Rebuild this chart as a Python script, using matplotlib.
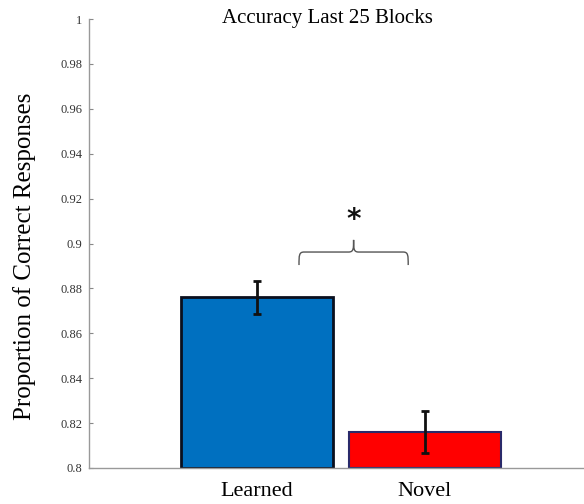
import matplotlib
matplotlib.use("Agg")
import matplotlib.pyplot as plt
from matplotlib.path import Path
import matplotlib.patches as patches
from matplotlib.ticker import FormatStrFormatter

# group means and error bars
conditions = ["Learned", "Novel"]
means = [0.876, 0.816]
errors = [0.0074, 0.0094]
bar_colors = ["#0070C0", "#FF0000"]
edge_colors = ["#0a0f1e", "#2a2a6a"]
yticks = [0.8, 0.82, 0.84, 0.86, 0.88, 0.9, 0.92, 0.94, 0.96, 0.98, 1.0]

plt.rcParams['font.family'] = ['Liberation Serif', 'DejaVu Serif']

fig = plt.figure(figsize=(5.84, 5.04), dpi=100)
ax = fig.add_axes([89/584, 36/504, 504/584, 449/504])

xs = [1, 2]
for x, m, c, ec, lw in zip(xs, means, bar_colors, edge_colors, [2.0, 1.5]):
    ax.bar(x, m - 0.8, bottom=0.8, width=0.9, color=c, edgecolor=ec, linewidth=lw, zorder=2)
ax.errorbar(xs, means, yerr=errors, fmt='none', ecolor='#111111', elinewidth=2,
            capsize=3, capthick=2, zorder=3)

ax.set_xlim(0, 3)
ax.set_ylim(0.8, 1.0)
ax.set_yticks(yticks)
ax.yaxis.set_major_formatter(FormatStrFormatter('%g'))
ax.set_xticks(xs)
ax.set_xticklabels(conditions, fontsize=16)
ax.tick_params(axis='x', length=0, pad=10)
ax.tick_params(axis='y', direction='in', length=3, width=0.8, color='#888888',
               labelsize=9, labelcolor='#333333', pad=5)
for s in ['top', 'right']:
    ax.spines[s].set_visible(False)
for s in ['left', 'bottom']:
    ax.spines[s].set_color('#999999')
    ax.spines[s].set_linewidth(1.0)

ax.set_ylabel("Proportion of Correct Responses", fontsize=18, va='center')
ax.yaxis.set_label_coords(-0.127, 0.472)
fig.text(327/584, 1 - 18/504, "Accuracy Last 25 Blocks", ha='center', va='center', fontsize=15)

# significance brace between the two bars
x0, x1 = 1.25, 1.9
xm = (x0 + x1) / 2
yb, yh, yt = 0.8904, 0.8962, 0.9016
r = 0.03
ry = 0.0015
verts = [
    (x0, yb), (x0, yh - ry), (x0, yh), (x0 + r, yh),
    (xm - r, yh), (xm, yh), (xm, yh + ry), (xm, yt),
    (xm, yt), (xm, yh + ry), (xm, yh), (xm + r, yh),
    (x1 - r, yh), (x1, yh), (x1, yh - ry), (x1, yb),
]
codes = [Path.MOVETO, Path.CURVE4, Path.CURVE4, Path.CURVE4,
         Path.LINETO, Path.CURVE4, Path.CURVE4, Path.CURVE4,
         Path.MOVETO, Path.CURVE4, Path.CURVE4, Path.CURVE4,
         Path.LINETO, Path.CURVE4, Path.CURVE4, Path.CURVE4]
brace = patches.PathPatch(Path(verts, codes), fill=False, edgecolor='#555555', linewidth=1.0)
ax.add_patch(brace)
ax.text(xm, 0.9105, "*", ha='center', va='center', fontsize=20, fontweight='bold',
        family='DejaVu Sans', color='#111111')

fig.savefig("out.png", dpi=100)
